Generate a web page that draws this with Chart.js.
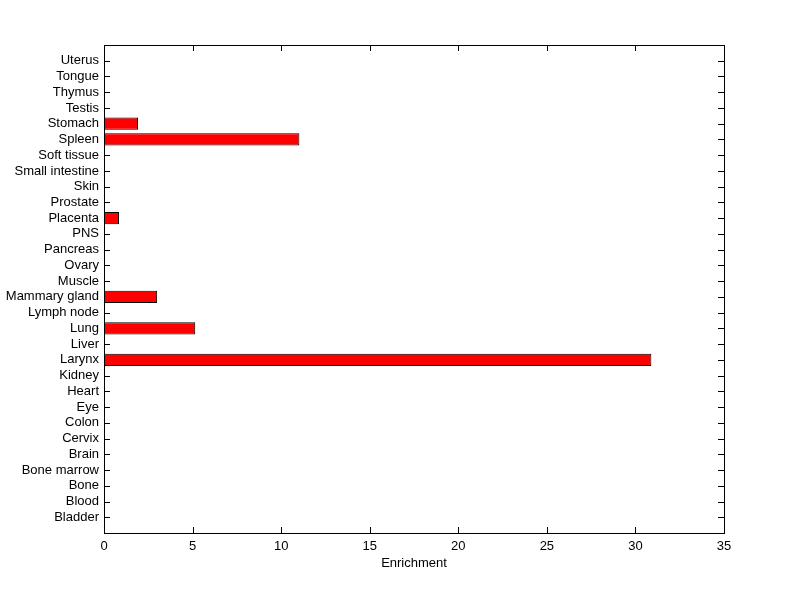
<!DOCTYPE html>
<html>
<head>
<meta charset="utf-8">
<script src="https://cdn.jsdelivr.net/npm/chart.js@4/dist/chart.umd.min.js"></script>
<style>
  body { margin: 0; background: #fff; }
  #wrap { width: 800px; height: 599px; }
</style>
</head>
<body>
<div id="wrap"><canvas id="chart" width="800" height="599"></canvas></div>
<script>
// bottom to top, as in the figure
const tissues = [
  "Bladder", "Blood", "Bone", "Bone marrow", "Brain", "Cervix", "Colon", "Eye",
  "Heart", "Kidney", "Larynx", "Liver", "Lung", "Lymph node", "Mammary gland",
  "Muscle", "Ovary", "Pancreas", "PNS", "Placenta", "Prostate", "Skin",
  "Small intestine", "Soft tissue", "Spleen", "Stomach", "Testis", "Thymus",
  "Tongue", "Uterus"
];
const enrichment = [
  0, 0, 0, 0, 0, 0, 0, 0,
  0, 0, 30.9, 0, 5.15, 0, 3.0,
  0, 0, 0, 0, 0.85, 0, 0,
  0, 0, 11.03, 1.92, 0, 0,
  0, 0
];
const xTicks = [0, 5, 10, 15, 20, 25, 30, 35];

const FONT = { family: "'Liberation Sans', Arial, sans-serif", size: 13 };

// inward tick marks on all four sides (under the bars), box outline on top
const boxPlugin = {
  id: "box",
  beforeDatasetsDraw(chart) {
    const { ctx, chartArea: a, scales } = chart;
    ctx.save();
    ctx.strokeStyle = "#000";
    ctx.lineWidth = 1;
    ctx.beginPath();
    scales.x.ticks.forEach((t) => {
      const px = Math.round(scales.x.getPixelForValue(t.value)) + 0.5;
      ctx.moveTo(px, a.bottom); ctx.lineTo(px, a.bottom - 6);
      ctx.moveTo(px, a.top); ctx.lineTo(px, a.top + 6);
    });
    scales.y.ticks.forEach((t) => {
      const py = Math.round(scales.y.getPixelForValue(t.value)) + 0.5;
      ctx.moveTo(a.left, py); ctx.lineTo(a.left + 6, py);
      ctx.moveTo(a.right, py); ctx.lineTo(a.right - 6, py);
    });
    ctx.stroke();
    ctx.restore();
  },
  afterDraw(chart) {
    const { ctx, chartArea: a } = chart;
    ctx.save();
    ctx.strokeStyle = "#000";
    ctx.lineWidth = 1;
    ctx.strokeRect(a.left + 0.5, a.top + 0.5, a.right - a.left, a.bottom - a.top);
    ctx.restore();
  }
};

new Chart(document.getElementById("chart"), {
  type: "bar",
  data: {
    datasets: [{
      data: enrichment.map((v, i) => ({ x: v, y: i + 1 })),
      backgroundColor: "#ff0000",
      borderColor: "#000000",
      borderWidth: 1,
      borderSkipped: false,
      barPercentage: 1,
      categoryPercentage: 0.78
    }]
  },
  options: {
    indexAxis: "y",
    responsive: false,
    animation: false,
    layout: { padding: { top: 45, right: 76, left: 0, bottom: 28 } },
    plugins: { legend: { display: false }, tooltip: { enabled: false } },
    scales: {
      x: {
        type: "linear",
        min: 0,
        max: 35,
        afterBuildTicks: (s) => { s.ticks = xTicks.map((v) => ({ value: v })); },
        afterFit: (s) => { s.height = 38; },
        grid: { display: false, drawTicks: false },
        border: { display: false },
        ticks: { color: "#000", font: FONT, padding: 6 },
        title: { display: true, text: "Enrichment", color: "#000", font: FONT, padding: 0 }
      },
      y: {
        type: "linear",
        min: 0,
        max: 31,
        offset: false,
        afterBuildTicks: (s) => { s.ticks = tissues.map((_, i) => ({ value: i + 1 })); },
        afterFit: (s) => { s.width = 104; },
        grid: { display: false, drawTicks: false, offset: false },
        border: { display: false },
        ticks: {
          color: "#000",
          font: FONT,
          padding: 5,
          autoSkip: false,
          callback: (v) => tissues[v - 1]
        }
      }
    }
  },
  plugins: [boxPlugin]
});
</script>
</body>
</html>
